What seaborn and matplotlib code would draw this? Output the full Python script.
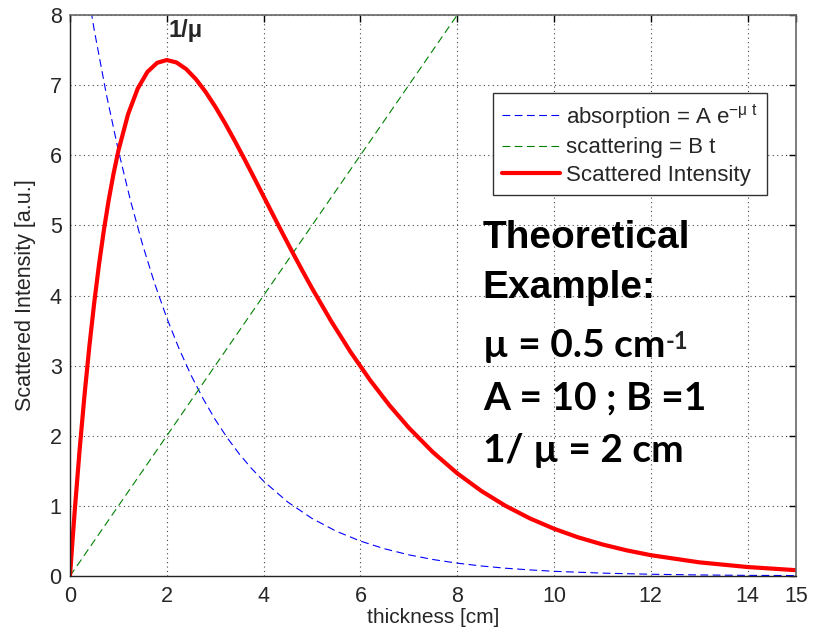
import matplotlib
matplotlib.use("Agg")
import matplotlib.pyplot as plt
import seaborn as sns

# ---- data ----
t_abs = [0, 0.25, 0.5, 0.75, 1.0, 1.25, 1.5, 1.75, 2.0, 2.25, 2.5, 2.75, 3.0, 3.25, 3.5,
         3.75, 4.0, 4.5, 5.0, 5.5, 6.0, 6.5, 7.0, 7.5, 8.0, 8.5, 9.0, 9.5, 10.0, 11.0,
         12.0, 13.0, 14.0, 15.0]
absorption = [10.0, 8.825, 7.788, 6.873, 6.065, 5.353, 4.724, 4.169, 3.679, 3.247, 2.865,
              2.528, 2.231, 1.969, 1.738, 1.534, 1.353, 1.054, 0.821, 0.639, 0.498, 0.388,
              0.302, 0.235, 0.183, 0.143, 0.111, 0.087, 0.067, 0.041, 0.025, 0.015, 0.009,
              0.006]

t_sca = [0, 2, 4, 6, 8, 10, 12, 14, 15]
scattering = [0, 2, 4, 6, 8, 10, 12, 14, 15]

t_int = [0, 0.05, 0.1, 0.2, 0.3, 0.4, 0.5, 0.6, 0.7, 0.8, 0.9, 1.0, 1.2, 1.4, 1.6, 1.8,
         2.0, 2.2, 2.4, 2.6, 2.8, 3.0, 3.2, 3.4, 3.6, 3.8, 4.0, 4.2, 4.4, 4.6, 4.8, 5.0,
         5.4, 5.8, 6.2, 6.6, 7.0, 7.5, 8.0, 8.5, 9.0, 9.5, 10.0, 10.5, 11.0, 11.5, 12.0,
         13.0, 14.0, 15.0]
intensity = [0, 0.488, 0.951, 1.810, 2.582, 3.275, 3.894, 4.445, 4.933, 5.363, 5.739,
             6.065, 6.586, 6.952, 7.189, 7.318, 7.358, 7.323, 7.229, 7.086, 6.905, 6.694,
             6.461, 6.211, 5.951, 5.684, 5.413, 5.143, 4.875, 4.612, 4.355, 4.104, 3.629,
             3.191, 2.793, 2.434, 2.114, 1.764, 1.465, 1.212, 1.000, 0.822, 0.674, 0.551,
             0.450, 0.366, 0.297, 0.195, 0.128, 0.083]

x_ticks = [0, 2, 4, 6, 8, 10, 12, 14, 15]
y_ticks = [0, 1, 2, 3, 4, 5, 6, 7, 8]

labels = [r"absorption = A e$^{-\mu\ t}$", "scattering = B t", "Scattered Intensity"]

sns.set_style("white")
plt.rcParams["font.family"] = ["Liberation Sans", "DejaVu Sans"]
plt.rcParams["mathtext.fontset"] = "custom"
plt.rcParams["mathtext.rm"] = "Liberation Sans"
plt.rcParams["mathtext.it"] = "Liberation Sans"
plt.rcParams["mathtext.default"] = "rm"

fig = plt.figure(figsize=(8.21, 6.33), dpi=100)
W, H = 821, 633
L, R, T, B = 70, 796, 15, 576
ax = fig.add_axes([L / W, 1 - B / H, (R - L) / W, (B - T) / H])

sns.lineplot(x=t_abs, y=absorption, ax=ax, color="#0000FF", lw=0.8,
             linestyle=(0, (7, 4)), label=labels[0], sort=False, estimator=None)
sns.lineplot(x=t_sca, y=scattering, ax=ax, color="#008000", lw=0.8,
             linestyle=(0, (7, 4)), label=labels[1], sort=False, estimator=None)
sns.lineplot(x=t_int, y=intensity, ax=ax, color="#FF0000", lw=3,
             label=labels[2], sort=False, estimator=None)

ax.set_xlim(0, 15)
ax.set_ylim(0, 8)
ax.set_xticks(x_ticks)
ax.set_yticks(y_ticks)
ax.set_xticklabels([str(v) for v in x_ticks])
ax.set_yticklabels([str(v) for v in y_ticks])
ax.tick_params(direction="in", length=5, width=1, top=True, right=True,
               labelsize=15.5, color="black")
ax.tick_params(axis="x", pad=7)
ax.tick_params(axis="y", pad=6)
ax.grid(True, color="#444444", linestyle=(0, (1, 3)), lw=0.8)
for s in ["left", "bottom"]:
    ax.spines[s].set_color("#222222")
    ax.spines[s].set_linewidth(1)
for s in ["top", "right"]:
    ax.spines[s].set_color("#666666")
    ax.spines[s].set_linewidth(1.2)

ax.set_xlabel("thickness [cm]", fontsize=15, labelpad=1)
ax.set_ylabel("Scattered Intensity [a.u.]", fontsize=15.5, labelpad=10)

leg = ax.legend(loc="upper left", bbox_to_anchor=(0.5826, 0.861), borderaxespad=0,
                fontsize=16, frameon=True, fancybox=False, edgecolor="#333333",
                framealpha=1, handlelength=2.6, labelspacing=0.3, borderpad=0.4,
                handletextpad=0.3)
leg.get_frame().set_linewidth(1)

ax.text(2.03, 7.69, "1/μ", fontsize=17, fontweight="bold", va="baseline", ha="left")

big = dict(fontsize=28, va="baseline", ha="left", color="black", fontweight="bold")
ax.text(8.53, 4.68, "Theoretical", family=["Liberation Sans", "DejaVu Sans"], **big)
ax.text(8.53, 3.97, "Example:", family=["Liberation Sans", "DejaVu Sans"], **big)
cal = ["Lato", "DejaVu Sans"]
t1 = ax.text(8.53, 3.12, "µ = 0.5 cm", family=cal, **big)
ax.annotate("-1", xy=(1.0, 0.95), xycoords=t1, fontsize=17, fontweight="bold",
            family=cal, va="top", ha="left")
ax.text(8.53, 2.37, "A = 10 ; B =1", family=cal, **big)
ax.text(8.53, 1.63, "1/ µ = 2 cm", family=cal, **big)

fig.savefig("out.png", dpi=100)
